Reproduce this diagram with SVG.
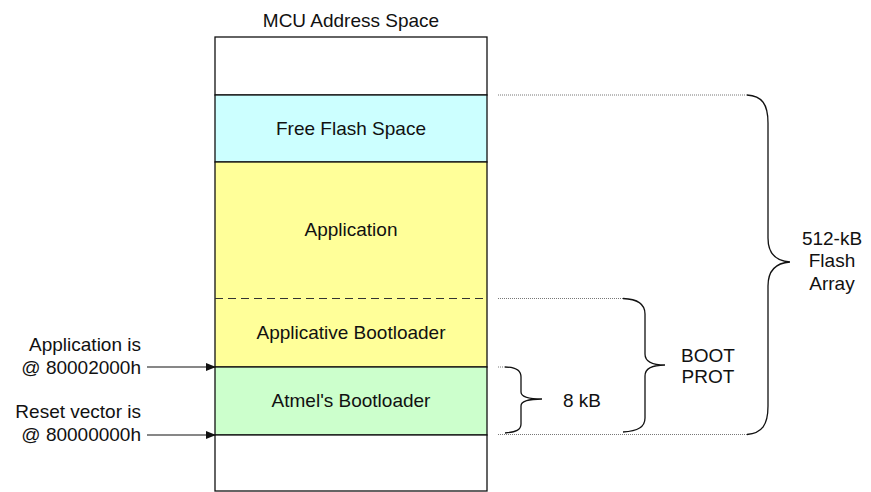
<svg xmlns="http://www.w3.org/2000/svg" width="871" height="492" viewBox="0 0 871 492">
<style>
text{font-family:"Liberation Sans",Arial,sans-serif;font-size:19px;fill:#111}
.c{text-anchor:middle}
.r{text-anchor:end}
.blk{stroke:#111;stroke-width:1.3;}
.dot{stroke:#777;stroke-width:1;stroke-dasharray:1 1;fill:none}
.br{fill:none;stroke:#111;stroke-width:1.3}
</style>
<defs>
<marker id="ah" markerWidth="10" markerHeight="8" refX="9" refY="4" orient="auto" markerUnits="userSpaceOnUse">
<path d="M0,0 L10,4 L0,8 Z" fill="#111"/>
</marker>
</defs>
<rect width="871" height="492" fill="#fff"/>
<text class="c" x="351" y="27">MCU Address Space</text>
<g id="top-free">
<rect x="215" y="37" width="272" height="58" fill="#fff" class="blk"/>
</g>
<g id="free-flash">
<rect x="215" y="95" width="272" height="67" fill="#CCFFFF" class="blk"/>
<text class="c" x="351" y="135">Free Flash Space</text>
</g>
<g id="application">
<rect x="215" y="162" width="272" height="205" fill="#FFFF99" class="blk"/>
<line x1="215" y1="298.5" x2="487" y2="298.5" stroke="#333" stroke-width="1.2" stroke-dasharray="8 5"/>
<text class="c" x="351" y="236">Application</text>
<text class="c" x="351" y="339">Applicative Bootloader</text>
</g>
<g id="atmel">
<rect x="215" y="367" width="272" height="68" fill="#CCFFCC" class="blk"/>
<text class="c" x="351" y="407">Atmel's Bootloader</text>
</g>
<g id="bottom">
<rect x="215" y="435" width="272" height="56" fill="#fff" class="blk"/>
</g>
<g id="labels">
<text class="r" x="141" y="350.5">Application is</text>
<text class="r" x="141" y="374">@ 80002000h</text>
<text class="r" x="141" y="418">Reset vector is</text>
<text class="r" x="141" y="441">@ 80000000h</text>
<text class="c" x="708" y="362">BOOT</text>
<text class="c" x="708" y="383">PROT</text>
<text class="c" x="582" y="407">8 kB</text>
<text class="c" x="832" y="245">512-kB</text>
<text class="c" x="832" y="267">Flash</text>
<text class="c" x="832" y="290">Array</text>
</g>
<g id="connectors">
<line x1="147" y1="367" x2="215" y2="367" stroke="#111" stroke-width="1.2" marker-end="url(#ah)"/>
<line x1="147" y1="435" x2="215" y2="435" stroke="#111" stroke-width="1.2" marker-end="url(#ah)"/>
<line class="dot" x1="498" y1="95" x2="747" y2="95"/>
<line class="dot" x1="498" y1="434.5" x2="747" y2="434.5"/>
<line class="dot" x1="498" y1="298.5" x2="623" y2="298.5"/>
<line class="dot" x1="498" y1="367" x2="505" y2="367"/>
<path class="br" d="M747,95 C762,96 768,104 768,123 L768,238 C768,252 775,261 790,262 C775,263 768,272 768,286 L768,406 C768,425 762,433 747,434.5"/>
<path class="br" d="M623,298.5 C638,299 645,304 645,314 L645,354 C645,361 652,365 665,365 C652,365 645,369 645,376 L645,418 C645,427 638,431 623,432"/>
<path class="br" d="M505,367 C516,367 521,370 521,377 L521,392 C521,397 528,399 542,399 C528,399 521,401 521,406 L521,424 C521,430 516,432 505,433"/>
</g>
</svg>
